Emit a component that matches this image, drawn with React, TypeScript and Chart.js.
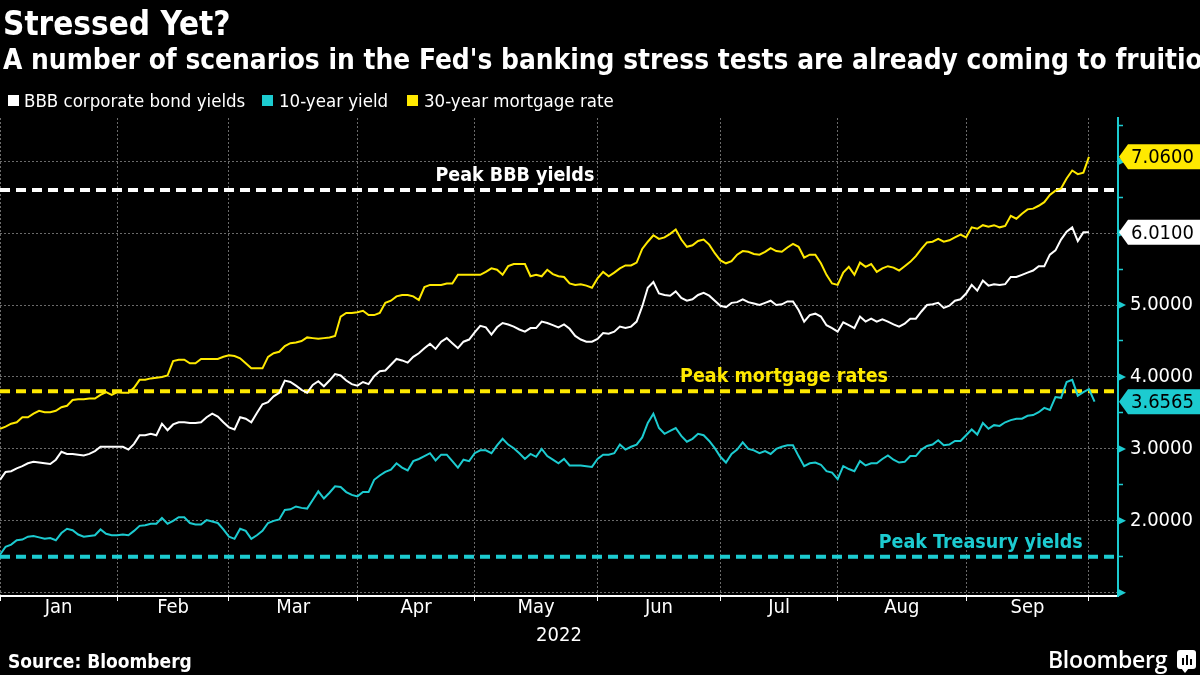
import { useEffect, useRef } from "react";
import { Chart, registerables } from "chart.js";

Chart.register(...registerables);

// ---- Data (business-day index 0 = first trading day of 2022) ----
const bbbYields = [
  2.57, 2.68, 2.69, 2.73, 2.76, 2.8, 2.82, 2.81, 2.8, 2.79,
  2.85, 2.96, 2.93, 2.93, 2.92, 2.91, 2.93, 2.97, 3.03, 3.03,
  3.03, 3.03, 3.03, 2.99, 3.07, 3.19, 3.19, 3.21, 3.19, 3.35,
  3.26, 3.34, 3.37, 3.37, 3.36, 3.36, 3.37, 3.44, 3.49, 3.45,
  3.37, 3.3, 3.27, 3.44, 3.42, 3.37, 3.5, 3.62, 3.65, 3.73,
  3.78, 3.95, 3.93, 3.88, 3.82, 3.78, 3.89, 3.94, 3.87, 3.95,
  4.04, 4.02, 3.95, 3.9, 3.88, 3.93, 3.9, 4.01, 4.08, 4.09,
  4.17, 4.25, 4.23, 4.2, 4.28, 4.33, 4.4, 4.46, 4.39, 4.49,
  4.54, 4.47, 4.4, 4.49, 4.52, 4.62, 4.71, 4.69, 4.59, 4.69,
  4.75, 4.73, 4.7, 4.66, 4.63, 4.68, 4.68, 4.77, 4.75, 4.72,
  4.69, 4.73, 4.67, 4.57, 4.52, 4.49, 4.49, 4.53, 4.61, 4.6,
  4.63, 4.7, 4.68, 4.7, 4.77, 4.98, 5.24, 5.32, 5.16, 5.14,
  5.13, 5.19, 5.1, 5.06, 5.08, 5.14, 5.17, 5.13, 5.06, 4.99,
  4.97, 5.03, 5.04, 5.08, 5.04, 5.02, 5.0, 5.03, 5.06, 5.0,
  5.01, 5.05, 5.05, 4.93, 4.77, 4.86, 4.88, 4.84, 4.72, 4.68,
  4.63, 4.76, 4.72, 4.68, 4.84, 4.77, 4.81, 4.77, 4.8, 4.77,
  4.73, 4.7, 4.74, 4.81, 4.81, 4.91, 5.0, 5.01, 5.03, 4.96,
  4.99, 5.06, 5.08, 5.16, 5.28, 5.2, 5.34, 5.27, 5.29, 5.28,
  5.29, 5.39, 5.39, 5.42, 5.45, 5.48, 5.54, 5.54, 5.7, 5.76,
  5.91, 6.02, 6.08, 5.89, 6.01, 6.01,
];

const tenYearYield = [
  1.53, 1.64, 1.67, 1.73, 1.74, 1.78, 1.79, 1.77, 1.75, 1.76,
  1.73, 1.83, 1.89, 1.87, 1.81, 1.78, 1.79, 1.8, 1.88, 1.82,
  1.8, 1.8, 1.81, 1.8, 1.86, 1.93, 1.94, 1.96, 1.96, 2.04,
  1.96, 2.0, 2.05, 2.05, 1.97, 1.95, 1.95, 2.01, 1.99, 1.97,
  1.88, 1.78, 1.75, 1.89, 1.86, 1.75, 1.8, 1.86, 1.97, 2.0,
  2.02, 2.15, 2.16, 2.2, 2.18, 2.17, 2.29, 2.41, 2.31, 2.39,
  2.48, 2.47, 2.4, 2.36, 2.34, 2.4, 2.4, 2.57, 2.63, 2.68,
  2.71, 2.8, 2.74, 2.7, 2.83, 2.86, 2.9, 2.94, 2.84, 2.92,
  2.92, 2.83, 2.74, 2.85, 2.83, 2.94, 2.98, 2.98, 2.94, 3.05,
  3.14, 3.06, 3.01, 2.94, 2.86, 2.93, 2.89, 3.0, 2.9, 2.85,
  2.8, 2.86, 2.77, 2.77, 2.77, 2.76, 2.75, 2.86, 2.92, 2.92,
  2.94, 3.06, 2.99, 3.03, 3.06, 3.16, 3.36, 3.49, 3.29, 3.21,
  3.25, 3.29, 3.18, 3.1, 3.14, 3.21, 3.19, 3.11, 3.01, 2.89,
  2.81, 2.93, 2.99, 3.09, 3.0, 2.98, 2.94, 2.97, 2.93, 3.0,
  3.03, 3.05, 3.05, 2.9, 2.76, 2.8, 2.81, 2.78, 2.69, 2.67,
  2.58, 2.76, 2.72, 2.69, 2.83, 2.77, 2.8, 2.8, 2.86, 2.91,
  2.85, 2.81, 2.82, 2.9, 2.9, 2.99, 3.04, 3.06, 3.12, 3.05,
  3.06, 3.11, 3.11, 3.19, 3.27, 3.2, 3.36, 3.28, 3.33, 3.32,
  3.37, 3.4, 3.42, 3.42, 3.46, 3.47, 3.51, 3.57, 3.54, 3.72,
  3.71, 3.93, 3.96, 3.74, 3.79, 3.83, 3.6565,
];

const mortgageRate = [
  3.28, 3.31, 3.35, 3.37, 3.44, 3.44, 3.49, 3.53, 3.51, 3.51,
  3.53, 3.58, 3.6, 3.68, 3.69, 3.69, 3.7, 3.7, 3.75, 3.79,
  3.75, 3.79, 3.78, 3.78, 3.85, 3.96, 3.96, 3.98, 3.99, 4.0,
  4.02, 4.22, 4.24, 4.24, 4.19, 4.19, 4.25, 4.25, 4.25, 4.25,
  4.28, 4.3, 4.29, 4.26, 4.19, 4.12, 4.12, 4.12, 4.28, 4.33,
  4.35, 4.43, 4.47, 4.48, 4.5, 4.55, 4.54, 4.53, 4.54, 4.55,
  4.57, 4.84, 4.89, 4.89, 4.9, 4.92, 4.86, 4.86, 4.89, 5.03,
  5.06, 5.12, 5.14, 5.14, 5.12, 5.07, 5.25, 5.28, 5.28, 5.28,
  5.3, 5.3, 5.42, 5.42, 5.42, 5.42, 5.42, 5.46, 5.51, 5.49,
  5.42, 5.54, 5.57, 5.57, 5.57, 5.4, 5.42, 5.4, 5.49, 5.43,
  5.4, 5.39, 5.3, 5.28, 5.29, 5.27, 5.24, 5.37, 5.46, 5.4,
  5.45, 5.51, 5.55, 5.55, 5.59, 5.78, 5.88, 5.97, 5.92, 5.94,
  5.99, 6.05, 5.91, 5.81, 5.83, 5.89, 5.91, 5.84, 5.72, 5.62,
  5.58, 5.61, 5.7, 5.75, 5.74, 5.71, 5.7, 5.74, 5.79, 5.75,
  5.74, 5.8, 5.85, 5.81, 5.66, 5.7, 5.7, 5.58, 5.42, 5.3,
  5.28, 5.45, 5.53, 5.42, 5.59, 5.53, 5.57, 5.46, 5.51, 5.54,
  5.52, 5.48, 5.54, 5.6, 5.68, 5.78, 5.87, 5.88, 5.92, 5.88,
  5.9, 5.94, 5.98, 5.94, 6.08, 6.06, 6.11, 6.09, 6.11, 6.08,
  6.1, 6.24, 6.2, 6.27, 6.33, 6.34, 6.38, 6.43, 6.53, 6.59,
  6.62, 6.76, 6.87, 6.82, 6.84, 7.06,
];

// Month boundaries (business-day index of first trading day) and names
const monthStarts = [0, 21, 41, 64, 85, 107, 129, 150, 173, 195];
const monthNames = ["Jan", "Feb", "Mar", "Apr", "May", "Jun", "Jul", "Aug", "Sep"];
const yearLabel = "2022";

// Y-axis ticks
const yTickValues = [1, 1.5, 2, 2.5, 3, 3.5, 4, 4.5, 5, 5.5, 6, 6.5, 7, 7.5];
const yLabeledTicks = [2, 3, 4, 5];
const yArrowTicks = [1, 2, 3, 4, 5, 6, 7];

// Stress-test peak levels
const peakLevels = [6.6, 3.8, 1.5];
const peakLabels = ["Peak BBB yields", "Peak mortgage rates", "Peak Treasury yields"];

// Series names
const seriesNames = ["BBB corporate bond yields", "10-year yield", "30-year mortgage rate"];

// ---- Styling ----
const WHITE = "#ffffff";
const CYAN = "#1ccbd0";
const YELLOW = "#ffe900";
const GRID = "#6a6a6a";
const FONT = '"DejaVu Sans Condensed", "DejaVu Sans", sans-serif';
const X_MAX = 200.2;
const PEAK_LINE_END = 199.6;
const peakColors = [WHITE, YELLOW, CYAN];
const peakLabelAt = [92.2, 140.4, 193.9];
const peakLabelAlign: CanvasTextAlign[] = ["center", "center", "right"];
const seriesColors = [WHITE, CYAN, YELLOW];

export default function App() {
  const canvasRef = useRef<HTMLCanvasElement>(null);

  useEffect(() => {
    const canvas = canvasRef.current;
    if (!canvas) return;
    const seriesValues = [bbbYields, tenYearYield, mortgageRate];
    const monthMids = monthNames.map((_, i) => (monthStarts[i] + monthStarts[i + 1]) / 2);

    const seriesSets = seriesValues.map((vals, i) => ({
      label: seriesNames[i],
      data: vals.map((v, k) => ({ x: k, y: v })),
      borderColor: seriesColors[i],
      backgroundColor: seriesColors[i],
      borderWidth: 2,
      pointRadius: 0,
      tension: 0,
      fill: false,
    }));
    const peakSets = peakLevels.map((v, i) => ({
      label: peakLabels[i],
      data: [
        { x: 0, y: v },
        { x: PEAK_LINE_END, y: v },
      ],
      borderColor: peakColors[i],
      borderWidth: 4,
      borderDash: [10, 6],
      borderCapStyle: "butt" as const,
      pointRadius: 0,
      tension: 0,
      fill: false,
    }));

    const decorations = {
      id: "decorations",
      afterDatasetsDraw(chart: any) {
        const { ctx, scales } = chart;
        const xs = scales.x;
        const ys = scales.y;
        ctx.save();
        ctx.font = `bold 19.5px ${FONT}`;
        ctx.textBaseline = "middle";
        peakLevels.forEach((v, i) => {
          ctx.fillStyle = peakColors[i];
          ctx.textAlign = peakLabelAlign[i];
          ctx.fillText(peakLabels[i], xs.getPixelForValue(peakLabelAt[i]), ys.getPixelForValue(v) - 14);
        });
        ctx.restore();
      },
      afterDraw(chart: any) {
        const { ctx, scales, chartArea } = chart;
        const ys = scales.y;
        const right = chartArea.right;
        ctx.save();
        // arrow ticks
        ctx.fillStyle = CYAN;
        yArrowTicks.forEach((v) => {
          const yy = ys.getPixelForValue(v);
          ctx.beginPath();
          ctx.moveTo(right, yy - 4);
          ctx.lineTo(right + 8, yy);
          ctx.lineTo(right, yy + 4);
          ctx.closePath();
          ctx.fill();
        });
        // last value boxes
        seriesValues.forEach((vals, i) => {
          const v = vals[vals.length - 1];
          const yc = ys.getPixelForValue(v);
          const h = 12.5;
          ctx.fillStyle = seriesColors[i];
          ctx.beginPath();
          ctx.moveTo(right + 1, yc);
          ctx.lineTo(right + 10, yc - h);
          ctx.lineTo(chart.width, yc - h);
          ctx.lineTo(chart.width, yc + h);
          ctx.lineTo(right + 10, yc + h);
          ctx.closePath();
          ctx.fill();
          ctx.fillStyle = "#000000";
          ctx.font = `20px ${FONT}`;
          ctx.textAlign = "left";
          ctx.textBaseline = "middle";
          ctx.fillText(v.toFixed(4), right + 13, yc + 1);
        });
        ctx.restore();
      },
    };

    const chart = new Chart(canvas, {
      type: "line",
      data: { datasets: [...seriesSets, ...peakSets] as any },
      options: {
        animation: false,
        responsive: false,
        maintainAspectRatio: false,
        devicePixelRatio: 1,
        layout: { padding: { top: 118, bottom: 29, left: 0, right: 0 } },
        plugins: {
          legend: { display: false },
          tooltip: { enabled: false },
        },
        scales: {
          x: {
            type: "linear",
            min: 0,
            max: X_MAX,
            afterBuildTicks: (s: any) => {
              s.ticks = [...monthStarts, ...monthMids].sort((a, b) => a - b).map((v) => ({ value: v }));
            },
            afterFit: (s: any) => {
              s.height = 50;
            },
            ticks: {
              autoSkip: false,
              maxRotation: 0,
              minRotation: 0,
              color: WHITE,
              padding: -3,
              font: { family: FONT, size: 20, lineHeight: 1 },
              callback: (value: any) => {
                const idx = monthMids.indexOf(Number(value));
                return idx >= 0 ? monthNames[idx] : "";
              },
            },
            grid: {
              color: (c: any) => (monthStarts.includes(c.tick?.value) ? GRID : "transparent"),
              tickColor: (c: any) => (monthStarts.includes(c.tick?.value) ? WHITE : "transparent"),
              lineWidth: 1,
              tickLength: 5,
              tickWidth: 1,
              tickBorderDash: [],
              drawTicks: true,
            },
            border: { display: true, color: WHITE, width: 2, dash: [2, 2] },
            title: {
              display: true,
              text: yearLabel,
              color: WHITE,
              font: { family: FONT, size: 20, lineHeight: 1 },
              padding: { top: 0, bottom: 0 },
            },
          },
          y: {
            type: "linear",
            position: "right",
            min: 0.955,
            max: 7.6,
            afterBuildTicks: (s: any) => {
              s.ticks = yTickValues.map((v) => ({ value: v }));
            },
            afterFit: (s: any) => {
              s.width = 82;
            },
            ticks: {
              color: WHITE,
              padding: 7,
              font: { family: FONT, size: 20 },
              callback: (value: any) => (yLabeledTicks.includes(Number(value)) ? Number(value).toFixed(4) : ""),
            },
            grid: {
              color: (c: any) => (Number.isInteger(c.tick?.value) ? GRID : "transparent"),
              tickColor: (c: any) => (Number.isInteger(c.tick?.value) ? "transparent" : CYAN),
              lineWidth: 1,
              tickLength: 5,
              tickWidth: 1.5,
              tickBorderDash: [],
            },
            border: { display: true, color: CYAN, width: 2, dash: [2, 2] },
          },
        },
      },
      plugins: [decorations],
    } as any);

    return () => chart.destroy();
  }, []);

  const legendLayout = [
    { box: 8, text: 24 },
    { box: 262, text: 279 },
    { box: 407, text: 424 },
  ];

  return (
    <div style={{ position: "fixed", left: 0, top: 0, width: 1200, height: 675, background: "#000", overflow: "hidden" }}>
      <canvas ref={canvasRef} width={1200} height={675} style={{ position: "absolute", left: 0, top: 0, width: 1200, height: 675 }} />
      <div style={{ position: "absolute", left: 3, top: 4, fontFamily: FONT, fontWeight: "bold", fontSize: 33, color: WHITE, whiteSpace: "nowrap" }}>
        Stressed Yet?
      </div>
      <div style={{ position: "absolute", left: 3, top: 43, fontFamily: FONT, fontWeight: "bold", fontSize: 27.8, color: WHITE, whiteSpace: "nowrap" }}>
        A number of scenarios in the Fed's banking stress tests are already coming to fruition
      </div>
      {seriesNames.map((name, i) => (
        <div key={name}>
          <div style={{ position: "absolute", left: legendLayout[i].box, top: 95, width: 11, height: 11, background: seriesColors[i] }} />
          <div style={{ position: "absolute", left: legendLayout[i].text, top: 90, fontFamily: FONT, fontSize: 18.5, color: WHITE, whiteSpace: "nowrap" }}>
            {name}
          </div>
        </div>
      ))}
      <div style={{ position: "absolute", left: 8, top: 650, fontFamily: FONT, fontWeight: "bold", fontSize: 19, color: WHITE, whiteSpace: "nowrap" }}>
        Source: Bloomberg
      </div>
      <div style={{ position: "absolute", left: 1048, top: 643, fontFamily: '"Open Sans", sans-serif', fontWeight: 600, fontSize: 23, color: WHITE, whiteSpace: "nowrap", letterSpacing: -0.3 }}>
        Bloomberg
      </div>
      <div style={{ position: "absolute", left: 1177, top: 650, width: 19, height: 19, background: WHITE, borderRadius: 3 }}>
        <div style={{ position: "absolute", left: 5, top: 8, width: 2, height: 7, background: "#000" }} />
        <div style={{ position: "absolute", left: 9, top: 5, width: 2, height: 10, background: "#000" }} />
        <div style={{ position: "absolute", left: 13, top: 9, width: 2, height: 6, background: "#000" }} />
      </div>
      <div style={{ position: "absolute", left: 1181, top: 668, width: 0, height: 0, borderLeft: "4px solid transparent", borderRight: "4px solid transparent", borderTop: "5px solid " + WHITE }} />
    </div>
  );
}
